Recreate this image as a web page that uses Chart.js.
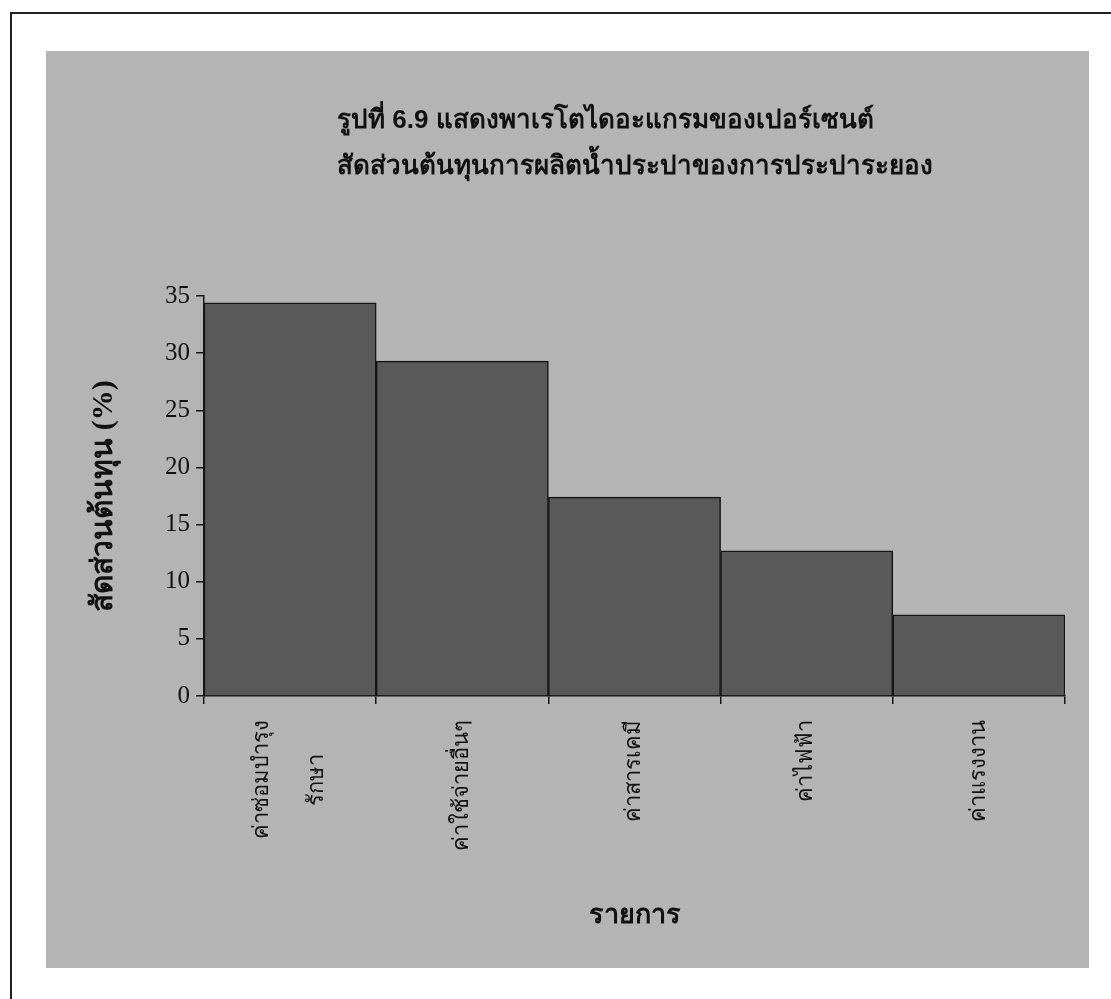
<!DOCTYPE html>
<html>
<head>
<meta charset="utf-8">
<script src="https://cdn.jsdelivr.net/npm/chart.js@4.4.1/dist/chart.umd.min.js"></script>
<style>
  html, body { margin: 0; padding: 0; background: #fff; }
  body { width: 1111px; height: 999px; position: relative; overflow: hidden; }
  .frame { position: absolute; left: 10px; top: 12px; width: 1120px; height: 1000px;
           border-top: 2px solid #222; border-left: 2px solid #222; }
  .panel { position: absolute; left: 46px; top: 51px; width: 1043px; height: 917px; background: #b4b4b4; }
</style>
</head>
<body>
<div class="frame"></div>
<div class="panel"><canvas id="paretoChart"></canvas></div>
<script>
// chart data
const categories = [['ค่าซ่อมบำรุง', 'รักษา'], 'ค่าใช้จ่ายอื่นๆ', 'ค่าสารเคมี', 'ค่าไฟฟ้า', 'ค่าแรงงาน'];
const costShare = [34.4, 29.3, 17.4, 12.7, 7.1];
const titleLines = ['รูปที่ 6.9 แสดงพาเรโตไดอะแกรมของเปอร์เซนต์', 'สัดส่วนต้นทุนการผลิตน้ำประปาของการประปาระยอง'];
const yAxisTitle = 'สัดส่วนต้นทุน (%)';
const xAxisTitle = 'รายการ';

const serif = "'Liberation Serif', 'Times New Roman', serif";
const sans = "'Liberation Sans', Arial, sans-serif";

// title is left aligned at a fixed spot, so draw it ourselves
const titlePlugin = {
  id: 'leftTitle',
  afterDraw(chart) {
    const c = chart.ctx;
    c.save();
    c.fillStyle = '#111';
    c.font = 'bold 26px ' + sans;
    c.textBaseline = 'middle';
    c.textAlign = 'left';
    c.fillText(titleLines[0], 291, 70);
    c.fillText(titleLines[1], 291, 116);
    c.restore();
  }
};

// two-line category label: centre the lines on the bar and on each other
const multiLinePlugin = {
  id: 'multiLineLabel',
  beforeDraw(chart) {
    const scale = chart.scales.x;
    const c = chart.ctx;
    scale.getLabelItems().forEach(item => {
      if (!Array.isArray(item.label) || item.fixed) return;
      c.save();
      c.font = item.font.string;
      const w = Math.max(...item.label.map(t => c.measureText(t).width));
      c.restore();
      const [x, y] = item.options.translation;
      item.options.translation = [x - (item.label.length - 1) * item.font.lineHeight / 2, y + w / 2];
      item.options.textAlign = 'center';
      item.fixed = true;
    });
  }
};

const ctx = document.getElementById('paretoChart');

new Chart(ctx, {
  type: 'bar',
  data: {
    labels: categories,
    datasets: [{
      data: costShare,
      backgroundColor: '#595959',
      borderColor: '#151515',
      borderWidth: 1.5,
      barPercentage: 1,
      categoryPercentage: 1
    }]
  },
  options: {
    responsive: true,
    maintainAspectRatio: false,
    animation: false,
    layout: { padding: { top: 245, right: 24, left: 0, bottom: 0 } },
    plugins: {
      legend: { display: false },
      tooltip: { enabled: false }
    },
    scales: {
      y: {
        min: 0,
        max: 35,
        afterFit(scale) { scale.width = 158; },
        border: { color: '#151515', width: 1.5 },
        grid: { drawOnChartArea: false, tickLength: 8, color: '#151515', lineWidth: 1.5 },
        ticks: { stepSize: 5, color: '#111', padding: 6, font: { family: serif, size: 25 } },
        title: {
          display: true,
          text: yAxisTitle,
          color: '#111',
          padding: { top: 40 },
          font: { family: serif, size: 30, weight: 'bold' }
        }
      },
      x: {
        afterFit(scale) { scale.height = 272; },
        border: { color: '#151515', width: 1.5 },
        grid: { drawOnChartArea: false, tickLength: 8, color: '#151515', lineWidth: 1.5 },
        ticks: {
          minRotation: 90,
          maxRotation: 90,
          autoSkip: false,
          padding: 16,
          color: '#111',
          font: { family: serif, size: 22, lineHeight: 2.5 }
        },
        title: {
          display: true,
          text: xAxisTitle,
          color: '#111',
          padding: { bottom: 36 },
          font: { family: serif, size: 27, weight: 'bold' }
        }
      }
    }
  },
  plugins: [titlePlugin, multiLinePlugin]
});
</script>
</body>
</html>
